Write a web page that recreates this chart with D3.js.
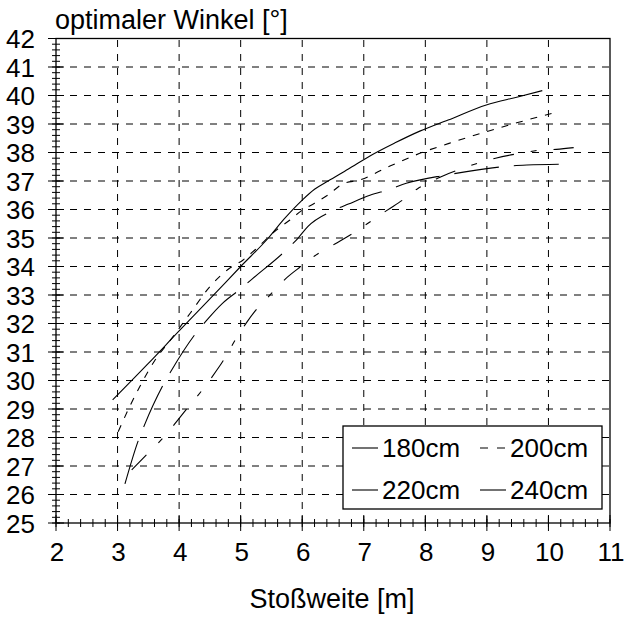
<!DOCTYPE html>
<html>
<head>
<meta charset="utf-8">
<script src="https://cdn.jsdelivr.net/npm/d3@7"></script>
<style>
  body { margin: 0; background: #fff; }
  text { font-family: "Liberation Sans", Arial, sans-serif; fill: #000; }
</style>
</head>
<body>
<div id="chart"></div>
<script>
// chart values
var xTicks = [2, 3, 4, 5, 6, 7, 8, 9, 10, 11];
var yTicks = [25, 26, 27, 28, 29, 30, 31, 32, 33, 34, 35, 36, 37, 38, 39, 40, 41, 42];

var dist180 = [2.92, 3.5, 4, 4.5, 5, 5.45, 5.7, 6, 6.2, 6.42, 6.75, 7.1, 7.5, 7.91, 8.37, 8.99, 9.5, 9.9];
var angle180 = [29.32, 30.6, 31.74, 32.86, 34.0, 35.0, 35.65, 36.33, 36.71, 37.0, 37.42, 37.88, 38.33, 38.75, 39.14, 39.67, 39.95, 40.17];

var dist200 = [3.01, 3.2, 3.36, 3.61, 3.88, 4.18, 4.5, 4.82, 5.04, 5.23, 5.58, 5.8, 5.99, 6.2, 6.42, 6.66, 6.94, 7.4, 7.91, 8.5, 8.99, 9.5, 10.05];
var angle200 = [28.2, 29.1, 29.78, 30.72, 31.48, 32.36, 33.29, 33.94, 34.23, 34.58, 35.28, 35.63, 35.96, 36.22, 36.51, 36.9, 37.04, 37.5, 37.97, 38.4, 38.73, 39.05, 39.37];

var dist220 = [3.12, 3.34, 3.43, 3.74, 3.88, 4.28, 4.45, 4.7, 4.99, 5.18, 5.75, 5.93, 6.09, 6.5, 6.75, 7.1, 7.42, 7.69, 8.34, 8.67, 9.4, 9.65, 10.22];
var angle220 = [26.37, 27.91, 28.4, 29.84, 30.37, 31.68, 32.12, 32.7, 33.2, 33.55, 34.6, 34.99, 35.4, 35.96, 36.19, 36.5, 36.71, 36.92, 37.21, 37.33, 37.53, 37.56, 37.59];

var dist240 = [3.23, 3.47, 3.66, 3.9, 4.13, 4.3, 4.53, 4.73, 4.92, 5.07, 5.27, 5.46, 5.72, 5.99, 6.2, 6.53, 6.84, 7.05, 7.37, 7.67, 7.88, 8.04, 8.2, 8.53, 8.8, 9.14, 9.59, 9.89, 10.13, 10.41];
var angle240 = [26.86, 27.39, 27.8, 28.4, 29.02, 29.46, 30.11, 30.74, 31.45, 31.95, 32.53, 32.96, 33.55, 34.02, 34.37, 34.79, 35.19, 35.49, 35.96, 36.39, 36.74, 36.92, 37.1, 37.39, 37.59, 37.8, 37.99, 38.09, 38.11, 38.17];

var seriesNames = ["180cm", "200cm", "220cm", "240cm"];
var dashes = [null, "7,8", "45,15", "21,17,6,17"];

var width = 626, height = 619;
var margin = { top: 38.5, right: 16, bottom: 96, left: 56 };

var svg = d3.select("#chart").append("svg")
  .attr("width", width)
  .attr("height", height);

var x = d3.scaleLinear().domain([2, 11]).range([margin.left, width - margin.right]);
var y = d3.scaleLinear().domain([25, 42]).range([height - margin.bottom, margin.top]);

// grid
var grid = svg.append("g").attr("stroke", "#000").attr("stroke-width", 1).attr("stroke-dasharray", "7,7");
grid.selectAll(".vg").data(xTicks.slice(1, -1)).enter().append("line")
  .attr("x1", d => x(d)).attr("x2", d => x(d))
  .attr("y1", y(25)).attr("y2", y(42));
grid.selectAll(".hg").data(yTicks.slice(1, -1)).enter().append("line")
  .attr("x1", x(2)).attr("x2", x(11))
  .attr("y1", d => y(d)).attr("y2", d => y(d));

// curves
var xs = [dist180, dist200, dist220, dist240];
var ys = [angle180, angle200, angle220, angle240];
var line = d3.line().x(d => x(d[0])).y(d => y(d[1])).curve(d3.curveMonotoneX);
seriesNames.forEach(function (name, i) {
  var pts = xs[i].map((d, j) => [d, ys[i][j]]);
  svg.append("path")
    .datum(pts)
    .attr("d", line)
    .attr("fill", "none")
    .attr("stroke", "#000")
    .attr("stroke-width", 1.1)
    .attr("stroke-dasharray", dashes[i]);
});

// frame
svg.append("rect")
  .attr("x", x(2)).attr("y", y(42))
  .attr("width", x(11) - x(2)).attr("height", y(25) - y(42))
  .attr("fill", "none").attr("stroke", "#000").attr("stroke-width", 1.3);

// ticks (crossing the axis)
var minorX = d3.range(2, 11.001, 0.2);
var minorY = d3.range(25, 42.001, 0.2);
var tk = svg.append("g").attr("stroke", "#000").attr("stroke-width", 1);
tk.selectAll(".mx").data(minorX).enter().append("line")
  .attr("x1", d => x(d)).attr("x2", d => x(d))
  .attr("y1", y(25) - 4).attr("y2", y(25) + 4);
tk.selectAll(".Mx").data(xTicks).enter().append("line")
  .attr("x1", d => x(d)).attr("x2", d => x(d))
  .attr("y1", y(25) - 8).attr("y2", y(25) + 8);
tk.selectAll(".my").data(minorY).enter().append("line")
  .attr("y1", d => y(d)).attr("y2", d => y(d))
  .attr("x1", x(2) - 4).attr("x2", x(2) + 4);
tk.selectAll(".My").data(yTicks).enter().append("line")
  .attr("y1", d => y(d)).attr("y2", d => y(d))
  .attr("x1", x(2) - 8).attr("x2", x(2) + 8);

// tick labels
svg.selectAll(".xl").data(xTicks).enter().append("text")
  .attr("x", d => x(d) + 1).attr("y", 561)
  .attr("text-anchor", "middle")
  .style("font-size", "26px")
  .text(d => d);
svg.selectAll(".yl").data(yTicks).enter().append("text")
  .attr("x", 35).attr("y", d => y(d) + 9.5)
  .attr("text-anchor", "end")
  .style("font-size", "26px")
  .text(d => d);

// titles
svg.append("text").attr("x", 55).attr("y", 29)
  .style("font-size", "27px").text("optimaler Winkel [°]");
svg.append("text").attr("x", 332).attr("y", 608)
  .attr("text-anchor", "middle")
  .style("font-size", "27px").text("Stoßweite [m]");

// legend
var leg = svg.append("g");
leg.append("rect").attr("x", 343).attr("y", 426).attr("width", 259).attr("height", 83)
  .attr("fill", "#fff").attr("stroke", "#000").attr("stroke-width", 1.3);
var legPos = [[352, 448], [480, 448], [352, 490], [480, 490]];
seriesNames.forEach(function (name, i) {
  var p = legPos[i];
  leg.append("line")
    .attr("x1", p[0]).attr("x2", p[0] + (i == 1 ? 27 : 26))
    .attr("y1", p[1]).attr("y2", p[1])
    .attr("stroke", "#000").attr("stroke-width", 1.1)
    .attr("stroke-dasharray", i == 1 ? "8,9" : null);
  leg.append("text").attr("x", p[0] + 30).attr("y", p[1] + 9)
    .style("font-size", "26px").text(name);
});
</script>
</body>
</html>
